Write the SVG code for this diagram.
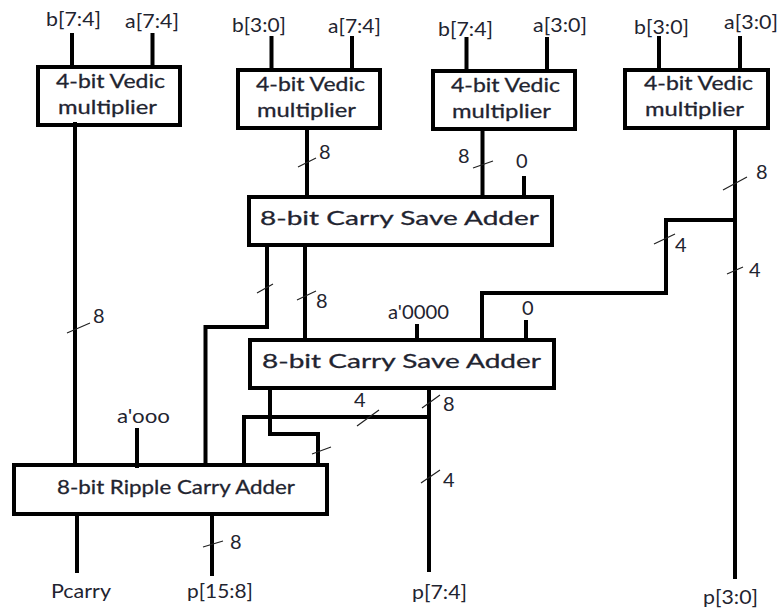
<svg xmlns="http://www.w3.org/2000/svg" width="779" height="608" viewBox="0 0 779 608">
<style>
text{font-family:Lato,"Liberation Sans",sans-serif;font-size:20px;fill:#1f2430}
.s{stroke:#1f2430;stroke-width:.3}
.b{fill:#fff;stroke:#000;stroke-width:4}
.w{fill:none;stroke:#000;stroke-width:4}
.t{fill:none;stroke:#222;stroke-width:1.2}
</style>
<rect width="779" height="608" fill="#fff"/>
<g id="mult1"><rect class="b" x="38" y="67" width="142" height="58"/><text class="s" x="56" y="88" textLength="109" lengthAdjust="spacingAndGlyphs">4-bit Vedic</text><text class="s" x="58" y="114" textLength="99" lengthAdjust="spacingAndGlyphs">multiplier</text></g>
<g id="mult2"><rect class="b" x="238" y="70" width="142" height="58"/><text class="s" x="256" y="91" textLength="109" lengthAdjust="spacingAndGlyphs">4-bit Vedic</text><text class="s" x="257" y="117" textLength="99" lengthAdjust="spacingAndGlyphs">multiplier</text></g>
<g id="mult3"><rect class="b" x="433" y="71" width="142" height="58"/><text class="s" x="451" y="92" textLength="109" lengthAdjust="spacingAndGlyphs">4-bit Vedic</text><text class="s" x="452" y="118" textLength="99" lengthAdjust="spacingAndGlyphs">multiplier</text></g>
<g id="mult4"><rect class="b" x="625" y="70" width="143" height="58"/><text class="s" x="644" y="90" textLength="109" lengthAdjust="spacingAndGlyphs">4-bit Vedic</text><text class="s" x="645" y="116" textLength="99" lengthAdjust="spacingAndGlyphs">multiplier</text></g>
<g id="csa1"><rect class="b" x="249" y="197" width="303" height="48"/><text class="s" x="260" y="225" textLength="279" lengthAdjust="spacingAndGlyphs">8-bit Carry Save Adder</text></g>
<g id="csa2"><rect class="b" x="250" y="340" width="304" height="48"/><text class="s" x="262" y="368" textLength="279" lengthAdjust="spacingAndGlyphs">8-bit Carry Save Adder</text></g>
<g id="rca"><rect class="b" x="14" y="465" width="313" height="49"/><text class="s" x="57" y="494" textLength="238" lengthAdjust="spacingAndGlyphs">8-bit Ripple Carry Adder</text></g>
<g id="connectors">
<path class="w" d="M72 33V65M152.500 33V65M75 122V463"/>
<path class="w" d="M271.500 36V68M352 36V68M307 130V195"/>
<path class="w" d="M466.500 37V69M547 37V69M482.500 131V195M524 176V195"/>
<path class="w" d="M659 36V68M740 36V68M735 130V579M735 220H666V293H482V338"/>
<path class="w" d="M267 247V329M269 327H205.500V463M305 247V340M417 324V338M526 320V338"/>
<path class="w" d="M429 390V572M429 417H244V463M270 390V434H318V463M137 428V468"/>
<path class="w" d="M77 516V573M212 516V576"/>
<g id="ticks">
<path class="t" d="M298 167L316 158M473 168L493 161M723 190L747 177M654 244L675 234M727 274L743 267M257 293L273 284M297 300L316 291M67 333L90 323M422 408L440 395M421 483L440 470M357 426L379 410M312 454L331 447M203 547L223 541"/>
</g>
</g>
<g id="labels">
<text x="46" y="26" textLength="55" lengthAdjust="spacingAndGlyphs">b[7:4]</text>
<text x="125" y="28" textLength="54" lengthAdjust="spacingAndGlyphs">a[7:4]</text>
<text x="232" y="32" textLength="54" lengthAdjust="spacingAndGlyphs">b[3:0]</text>
<text x="328" y="33" textLength="53" lengthAdjust="spacingAndGlyphs">a[7:4]</text>
<text x="438" y="36" textLength="55" lengthAdjust="spacingAndGlyphs">b[7:4]</text>
<text x="533" y="32" textLength="54" lengthAdjust="spacingAndGlyphs">a[3:0]</text>
<text x="634" y="34" textLength="55" lengthAdjust="spacingAndGlyphs">b[3:0]</text>
<text x="724" y="29" textLength="54" lengthAdjust="spacingAndGlyphs">a[3:0]</text>
<text x="319" y="159">8</text>
<text x="458" y="163">8</text>
<text x="516" y="168">0</text>
<text x="756" y="179">8</text>
<text x="675" y="252">4</text>
<text x="749" y="277">4</text>
<text x="316" y="308">8</text>
<text x="93" y="323">8</text>
<text x="388" y="319" textLength="61" lengthAdjust="spacingAndGlyphs">a'0000</text>
<text x="522" y="315">0</text>
<text x="117" y="423" textLength="53" lengthAdjust="spacingAndGlyphs">a'ooo</text>
<text x="354" y="407">4</text>
<text x="443" y="411">8</text>
<text x="443" y="487">4</text>
<text x="230" y="549">8</text>
<text x="51" y="598" textLength="60" lengthAdjust="spacingAndGlyphs">Pcarry</text>
<text x="187" y="598" textLength="66" lengthAdjust="spacingAndGlyphs">p[15:8]</text>
<text x="412" y="599" textLength="55" lengthAdjust="spacingAndGlyphs">p[7:4]</text>
<text x="703" y="604" textLength="55" lengthAdjust="spacingAndGlyphs">p[3:0]</text>
</g>
</svg>
